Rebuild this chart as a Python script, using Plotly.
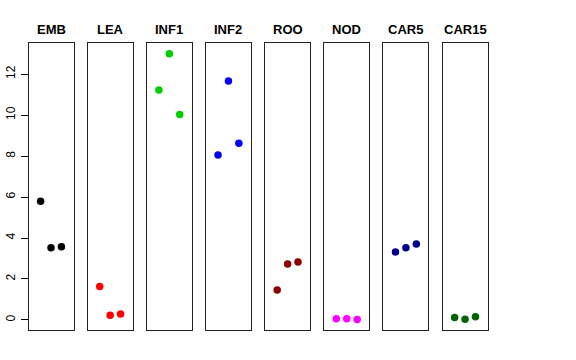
import plotly.graph_objects as go

categories = ["EMB", "LEA", "INF1", "INF2", "ROO", "NOD", "CAR5", "CAR15"]
colors = ["#000000", "#FF0000", "#00CD00", "#0000FF", "#8B0000", "#FF00FF", "#00008B", "#006400"]
rep_x = [1, 2, 3]
EMB = [5.80, 3.52, 3.57]
LEA = [1.63, 0.23, 0.29]
INF1 = [11.22, 13.00, 10.03]
INF2 = [8.05, 11.67, 8.63]
ROO = [1.46, 2.73, 2.83]
NOD = [0.06, 0.06, 0.02]
CAR5 = [3.32, 3.53, 3.71]
CAR15 = [0.12, 0.03, 0.16]
series = [EMB, LEA, INF1, INF2, ROO, NOD, CAR5, CAR15]
y_ticks = [0, 2, 4, 6, 8, 10, 12]

W, H = 576, 360
fig = go.Figure()
layout = dict(
    width=W, height=H, margin=dict(l=0, r=0, t=0, b=0, autoexpand=False),
    plot_bgcolor="white", paper_bgcolor="white", showlegend=False,
    font=dict(family="Liberation Sans, Arial, sans-serif", color="black"),
)
annotations = []
y0 = (H - 330) / H
y1 = (H - 43) / H
for i, (cat, vals, col) in enumerate(zip(categories, series, colors)):
    left = 28.5 + 59.15 * i
    right = left + 45
    sfx = "" if i == 0 else str(i + 1)
    fig.add_trace(go.Scatter(
        x=rep_x, y=vals, mode="markers",
        marker=dict(color=col, size=7.5, line=dict(width=0)),
        xaxis="x" + sfx, yaxis="y" + sfx, cliponaxis=False,
    ))
    layout["xaxis" + sfx] = dict(
        domain=[left / W, right / W], range=[-0.16, 4.16],
        showticklabels=False, ticks="", showgrid=False, zeroline=False,
        showline=True, mirror=True, linecolor="#222", linewidth=1,
        anchor="y" + sfx, fixedrange=True, automargin=False,
    )
    ya = dict(
        domain=[y0, y1], range=[-0.49, 13.52], showgrid=False, zeroline=False,
        showline=True, mirror=True, linecolor="#222", linewidth=1,
        anchor="x" + sfx, fixedrange=True, automargin=False,
    )
    if i == 0:
        ya.update(tickmode="array", tickvals=y_ticks, ticktext=[str(t) for t in y_ticks],
                  ticks="outside", ticklen=7, tickcolor="black", tickangle=-90,
                  tickfont=dict(size=12, color="black"), ticklabelstandoff=1)
    else:
        ya.update(showticklabels=False, ticks="")
    layout["yaxis" + sfx] = ya
    annotations.append(dict(
        text="<b>" + cat + "</b>", x=(left + right) / 2 / W, y=(H - 29) / H,
        xref="paper", yref="paper", showarrow=False, xanchor="center", yanchor="middle",
        font=dict(size=13, color="black"),
    ))
layout["annotations"] = annotations
fig.update_layout(**layout)
fig.write_html("out.html", config={"displayModeBar": False},
               post_script="document.body.style.margin='0';")
